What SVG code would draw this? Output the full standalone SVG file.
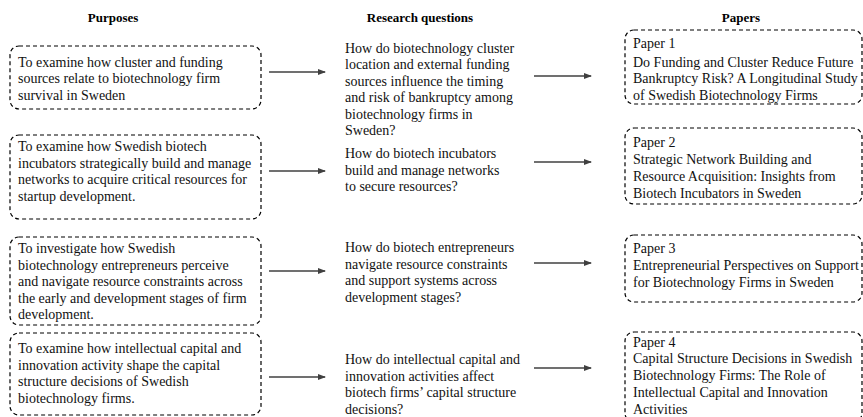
<svg xmlns="http://www.w3.org/2000/svg" width="863" height="417" viewBox="0 0 863 417">
<defs>
<marker id="ah" markerWidth="8" markerHeight="6" refX="7" refY="3" orient="auto" markerUnits="userSpaceOnUse">
<path d="M0,0 L8,3 L0,6 Z" fill="#404040"/>
</marker>
<style>
.hd{font-family:"Liberation Serif","Times New Roman",serif;font-size:13px;font-weight:bold;fill:#000;text-anchor:middle}
.t{font-family:"Liberation Serif","Times New Roman",serif;font-size:14px;fill:#111}
.box{fill:none;stroke:#000;stroke-width:1.2;stroke-dasharray:4 3}
.ar{stroke:#404040;stroke-width:1.6;fill:none;marker-end:url(#ah)}
</style>
</defs>
<rect width="863" height="417" fill="#fff"/>
<g id="headers">
<text class="hd" x="113" y="22">Purposes</text>
<text class="hd" x="420" y="22">Research questions</text>
<text class="hd" x="741" y="22">Papers</text>
</g>
<g id="purpose1">
<rect class="box" x="10" y="46" width="251" height="63" rx="9"/>
<text class="t" x="18" y="66.5">To examine how cluster and funding</text>
<text class="t" x="18" y="83">sources relate to biotechnology firm</text>
<text class="t" x="18" y="99.5">survival in Sweden</text>
</g>
<g id="purpose2">
<rect class="box" x="10" y="135" width="251" height="84" rx="9"/>
<text class="t" x="18" y="151">To examine how Swedish biotech</text>
<text class="t" x="18" y="167.5">incubators strategically build and manage</text>
<text class="t" x="18" y="184">networks to acquire critical resources for</text>
<text class="t" x="18" y="200.5">startup development.</text>
</g>
<g id="purpose3">
<rect class="box" x="10" y="237" width="251" height="88" rx="9"/>
<text class="t" x="18" y="253">To investigate how Swedish</text>
<text class="t" x="18" y="269.5">biotechnology entrepreneurs perceive</text>
<text class="t" x="18" y="286">and navigate resource constraints across</text>
<text class="t" x="18" y="302.5">the early and development stages of firm</text>
<text class="t" x="18" y="319">development.</text>
</g>
<g id="purpose4">
<rect class="box" x="10" y="333" width="251" height="82" rx="9"/>
<text class="t" x="18" y="353">To examine how intellectual capital and</text>
<text class="t" x="18" y="369.5">innovation activity shape the capital</text>
<text class="t" x="18" y="386">structure decisions of Swedish</text>
<text class="t" x="18" y="402.5">biotechnology firms.</text>
</g>
<g id="rq1">
<text class="t" x="345" y="52.5">How do biotechnology cluster</text>
<text class="t" x="345" y="69">location and external funding</text>
<text class="t" x="345" y="85.5">sources influence the timing</text>
<text class="t" x="345" y="102">and risk of bankruptcy among</text>
<text class="t" x="345" y="118.5">biotechnology firms in</text>
<text class="t" x="345" y="135">Sweden?</text>
</g>
<g id="rq2">
<text class="t" x="345" y="158">How do biotech incubators</text>
<text class="t" x="345" y="174.5">build and manage networks</text>
<text class="t" x="345" y="191">to secure resources?</text>
</g>
<g id="rq3">
<text class="t" x="345" y="252">How do biotech entrepreneurs</text>
<text class="t" x="345" y="268.5">navigate resource constraints</text>
<text class="t" x="345" y="285">and support systems across</text>
<text class="t" x="345" y="301.5">development stages?</text>
</g>
<g id="rq4">
<text class="t" x="345" y="364">How do intellectual capital and</text>
<text class="t" x="345" y="380.5">innovation activities affect</text>
<text class="t" x="345" y="397">biotech firms’ capital structure</text>
<text class="t" x="345" y="413.5">decisions?</text>
</g>
<g id="paper1">
<rect class="box" x="625" y="30" width="237" height="74" rx="9"/>
<text class="t" x="633" y="48">Paper 1</text>
<text class="t" x="633" y="66.5">Do Funding and Cluster Reduce Future</text>
<text class="t" x="633" y="83">Bankruptcy Risk? A Longitudinal Study</text>
<text class="t" x="633" y="99.5">of Swedish Biotechnology Firms</text>
</g>
<g id="paper2">
<rect class="box" x="625" y="128" width="237" height="76" rx="9"/>
<text class="t" x="633" y="147">Paper 2</text>
<text class="t" x="633" y="163.5">Strategic Network Building and</text>
<text class="t" x="633" y="180.5">Resource Acquisition: Insights from</text>
<text class="t" x="633" y="197.5">Biotech Incubators in Sweden</text>
</g>
<g id="paper3">
<rect class="box" x="625" y="235" width="237" height="67" rx="9"/>
<text class="t" x="633" y="252.5">Paper 3</text>
<text class="t" x="633" y="270">Entrepreneurial Perspectives on Support</text>
<text class="t" x="633" y="287">for Biotechnology Firms in Sweden</text>
</g>
<g id="paper4">
<rect class="box" x="625" y="332" width="237" height="90" rx="9"/>
<text class="t" x="633" y="346.5">Paper 4</text>
<text class="t" x="633" y="362.5">Capital Structure Decisions in Swedish</text>
<text class="t" x="633" y="380">Biotechnology Firms: The Role of</text>
<text class="t" x="633" y="397">Intellectual Capital and Innovation</text>
<text class="t" x="633" y="413.5">Activities</text>
</g>
<g id="connectors">
<line class="ar" x1="269" y1="72" x2="325" y2="72"/>
<line class="ar" x1="269" y1="171" x2="325" y2="171"/>
<line class="ar" x1="269" y1="271" x2="325" y2="271"/>
<line class="ar" x1="269" y1="377" x2="325" y2="377"/>
<line class="ar" x1="534" y1="76" x2="591" y2="76"/>
<line class="ar" x1="534" y1="162" x2="591" y2="162"/>
<line class="ar" x1="534" y1="263" x2="591" y2="263"/>
<line class="ar" x1="534" y1="368" x2="591" y2="368"/>
</g>
</svg>
